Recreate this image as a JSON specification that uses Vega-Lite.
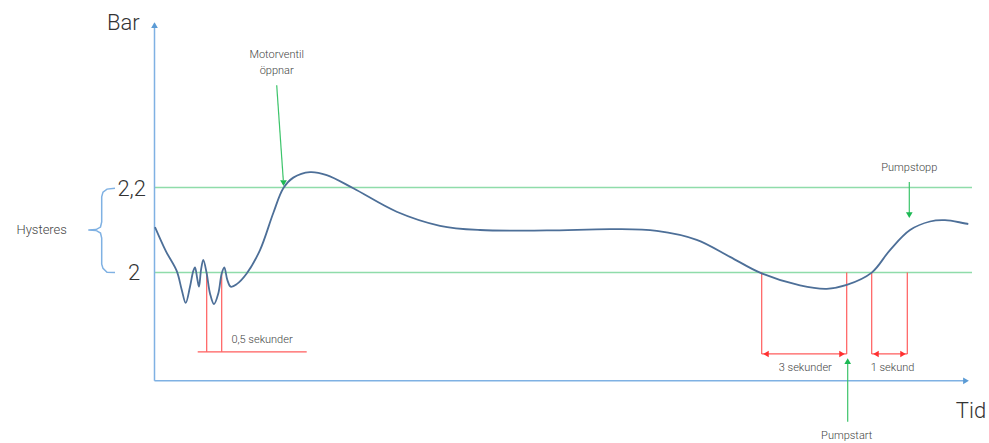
{
  "$schema": "https://vega.github.io/schema/vega-lite/v6.json",
  "width": 989,
  "height": 443,
  "autosize": {"type": "none"},
  "padding": 0,
  "background": "white",
  "config": {"view": {"stroke": null}},
  "datasets": {
    "kurva": [
      {"t": 155, "bar": 2.107}, {"t": 166, "bar": 2.05}, {"t": 176.7, "bar": 2.004}, {"t": 181.7, "bar": 1.96},
      {"t": 185.7, "bar": 1.929}, {"t": 190, "bar": 1.967}, {"t": 193.3, "bar": 2.004}, {"t": 195, "bar": 2.012},
      {"t": 197.3, "bar": 1.985}, {"t": 199, "bar": 1.967}, {"t": 201, "bar": 2.006}, {"t": 203.3, "bar": 2.03},
      {"t": 206.7, "bar": 1.998}, {"t": 210, "bar": 1.951}, {"t": 214, "bar": 1.926}, {"t": 218.3, "bar": 1.951},
      {"t": 221.7, "bar": 1.998}, {"t": 224.3, "bar": 2.012}, {"t": 227.3, "bar": 1.983}, {"t": 230.7, "bar": 1.967},
      {"t": 236.7, "bar": 1.973}, {"t": 246.7, "bar": 1.998}, {"t": 260, "bar": 2.053}, {"t": 273.3, "bar": 2.14},
      {"t": 283.3, "bar": 2.198}, {"t": 293.3, "bar": 2.223}, {"t": 310, "bar": 2.236}, {"t": 326.7, "bar": 2.229},
      {"t": 353.3, "bar": 2.198}, {"t": 396.7, "bar": 2.143}, {"t": 440, "bar": 2.11}, {"t": 480, "bar": 2.1},
      {"t": 546.7, "bar": 2.099}, {"t": 613.3, "bar": 2.102}, {"t": 656.7, "bar": 2.098}, {"t": 696.7, "bar": 2.077},
      {"t": 730, "bar": 2.037}, {"t": 760, "bar": 2.0}, {"t": 800, "bar": 1.97}, {"t": 826.7, "bar": 1.962},
      {"t": 846.7, "bar": 1.971}, {"t": 871.7, "bar": 2.0}, {"t": 890, "bar": 2.053}, {"t": 910, "bar": 2.1},
      {"t": 930, "bar": 2.12}, {"t": 945, "bar": 2.123}, {"t": 968.3, "bar": 2.114}
    ],
    "niva": [
      {"t1": 155, "t2": 972, "b1": 2.0, "b2": 2.0},
      {"t1": 155, "t2": 972, "b1": 2.2, "b2": 2.2}
    ],
    "axlar": [
      {"t1": 154.5, "t2": 154.5, "b1": 1.746, "b2": 2.585},
      {"t1": 154.5, "t2": 966, "b1": 1.746, "b2": 1.746}
    ],
    "axelpilar": [
      {"t": 154.5, "bar": 2.581, "riktning": "upp"},
      {"t": 966, "bar": 1.746, "riktning": "höger"}
    ],
    "tidsmatt": [
      {"t1": 206.7, "t2": 206.7, "b1": 2.0, "b2": 1.814},
      {"t1": 221.7, "t2": 221.7, "b1": 2.0, "b2": 1.814},
      {"t1": 197.7, "t2": 306.7, "b1": 1.814, "b2": 1.814},
      {"t1": 761.7, "t2": 761.7, "b1": 2.0, "b2": 1.809},
      {"t1": 846.7, "t2": 846.7, "b1": 2.0, "b2": 1.809},
      {"t1": 761.7, "t2": 846.7, "b1": 1.809, "b2": 1.809},
      {"t1": 871.7, "t2": 871.7, "b1": 2.0, "b2": 1.809},
      {"t1": 907.3, "t2": 907.3, "b1": 2.0, "b2": 1.809},
      {"t1": 871.7, "t2": 907.3, "b1": 1.809, "b2": 1.809}
    ],
    "tidspilar": [
      {"t": 766, "bar": 1.809, "riktning": "vänster"},
      {"t": 842, "bar": 1.809, "riktning": "höger"},
      {"t": 876, "bar": 1.809, "riktning": "vänster"},
      {"t": 903, "bar": 1.809, "riktning": "höger"}
    ],
    "handelser": [
      {"t1": 276.7, "t2": 283.3, "b1": 2.44, "b2": 2.217},
      {"t1": 909.3, "t2": 909.3, "b1": 2.213, "b2": 2.14},
      {"t1": 847.7, "t2": 847.7, "b1": 1.65, "b2": 1.79}
    ],
    "handelsepilar": [
      {"t": 283.5, "bar": 2.21, "riktning": "ned"},
      {"t": 909.3, "bar": 2.135, "riktning": "ned"},
      {"t": 847.7, "bar": 1.792, "riktning": "upp"}
    ],
    "klammer": [
      {"i": 1, "t": 115, "bar": 2.198}, {"i": 2, "t": 107, "bar": 2.196}, {"i": 3, "t": 103, "bar": 2.189},
      {"i": 4, "t": 101.7, "bar": 2.178}, {"i": 5, "t": 101.7, "bar": 2.119}, {"i": 6, "t": 100.5, "bar": 2.107},
      {"i": 7, "t": 96, "bar": 2.101}, {"i": 8, "t": 88.3, "bar": 2.1}, {"i": 9, "t": 96, "bar": 2.099},
      {"i": 10, "t": 100.5, "bar": 2.093}, {"i": 11, "t": 101.7, "bar": 2.081}, {"i": 12, "t": 101.7, "bar": 2.02},
      {"i": 13, "t": 103, "bar": 2.01}, {"i": 14, "t": 107, "bar": 2.001}, {"i": 15, "t": 115, "bar": 2.0}
    ],
    "storatexter": [
      {"text": "Bar", "t": 123.3, "bar": 2.586},
      {"text": "2,2", "t": 131.7, "bar": 2.196},
      {"text": "2", "t": 134, "bar": 1.998},
      {"text": "Tid", "t": 971, "bar": 1.675}
    ],
    "smatexter": [
      {"text": "Motorventil", "t": 276.7, "bar": 2.511},
      {"text": "öppnar", "t": 276.7, "bar": 2.474},
      {"text": "0,5 sekunder", "t": 262, "bar": 1.842},
      {"text": "Pumpstopp", "t": 909.3, "bar": 2.246},
      {"text": "3 sekunder", "t": 805.3, "bar": 1.777},
      {"text": "1 sekund", "t": 892.5, "bar": 1.777},
      {"text": "Pumpstart", "t": 846.7, "bar": 1.617}
    ],
    "hysteres": [
      {"text": "Hysteres", "t": 41.7, "bar": 2.1}
    ]
  },
  "encoding": {
    "x": {"field": "t", "type": "quantitative", "scale": {"domain": [0, 989], "nice": false, "zero": false}, "axis": null},
    "y": {"field": "bar", "type": "quantitative", "scale": {"domain": [1.6, 2.64], "nice": false, "zero": false}, "axis": null}
  },
  "layer": [
    {
      "data": {"name": "niva"},
      "mark": {"type": "rule", "color": "#8fdcaa", "strokeWidth": 1.5},
      "encoding": {
        "x": {"field": "t1", "type": "quantitative"}, "x2": {"field": "t2"},
        "y": {"field": "b1", "type": "quantitative"}, "y2": {"field": "b2"}
      }
    },
    {
      "data": {"name": "axlar"},
      "mark": {"type": "rule", "color": "#7fb1e3", "strokeWidth": 1.5},
      "encoding": {
        "x": {"field": "t1", "type": "quantitative"}, "x2": {"field": "t2"},
        "y": {"field": "b1", "type": "quantitative"}, "y2": {"field": "b2"}
      }
    },
    {
      "data": {"name": "axelpilar"},
      "mark": {"type": "point", "filled": true, "opacity": 1, "color": "#5b9bd5", "size": 45},
      "encoding": {
        "shape": {"field": "riktning", "type": "nominal", "legend": null,
          "scale": {"domain": ["upp", "ned", "vänster", "höger"], "range": ["triangle-up", "triangle-down", "triangle-left", "triangle-right"]}}
      }
    },
    {
      "data": {"name": "klammer"},
      "mark": {"type": "line", "color": "#7fb1e3", "strokeWidth": 1.5, "interpolate": "linear"},
      "encoding": {"order": {"field": "i", "type": "quantitative"}}
    },
    {
      "data": {"name": "tidsmatt"},
      "mark": {"type": "rule", "color": "#ff5c5c", "strokeWidth": 1.2},
      "encoding": {
        "x": {"field": "t1", "type": "quantitative"}, "x2": {"field": "t2"},
        "y": {"field": "b1", "type": "quantitative"}, "y2": {"field": "b2"}
      }
    },
    {
      "data": {"name": "tidspilar"},
      "mark": {"type": "point", "filled": true, "opacity": 1, "color": "#ff3030", "size": 40},
      "encoding": {
        "shape": {"field": "riktning", "type": "nominal", "legend": null,
          "scale": {"domain": ["upp", "ned", "vänster", "höger"], "range": ["triangle-up", "triangle-down", "triangle-left", "triangle-right"]}}
      }
    },
    {
      "data": {"name": "handelser"},
      "mark": {"type": "rule", "color": "#3cc46a", "strokeWidth": 1.2},
      "encoding": {
        "x": {"field": "t1", "type": "quantitative"}, "x2": {"field": "t2"},
        "y": {"field": "b1", "type": "quantitative"}, "y2": {"field": "b2"}
      }
    },
    {
      "data": {"name": "handelsepilar"},
      "mark": {"type": "point", "filled": true, "opacity": 1, "color": "#1db954", "size": 45},
      "encoding": {
        "shape": {"field": "riktning", "type": "nominal", "legend": null,
          "scale": {"domain": ["upp", "ned", "vänster", "höger"], "range": ["triangle-up", "triangle-down", "triangle-left", "triangle-right"]}}
      }
    },
    {
      "data": {"name": "kurva"},
      "mark": {"type": "line", "color": "#4d6f98", "strokeWidth": 1.8, "interpolate": "catmull-rom"}
    },
    {
      "data": {"name": "storatexter"},
      "mark": {"type": "text", "font": "Roboto", "fontWeight": 300, "fontSize": 22, "color": "#333333", "align": "center", "baseline": "middle"},
      "encoding": {"text": {"field": "text"}}
    },
    {
      "data": {"name": "smatexter"},
      "mark": {"type": "text", "font": "Roboto", "fontWeight": 300, "fontSize": 11, "color": "#444444", "align": "center", "baseline": "middle"},
      "encoding": {"text": {"field": "text"}}
    },
    {
      "data": {"name": "hysteres"},
      "mark": {"type": "text", "font": "Roboto", "fontWeight": 300, "fontSize": 13, "color": "#444444", "align": "center", "baseline": "middle"},
      "encoding": {"text": {"field": "text"}}
    }
  ]
}
